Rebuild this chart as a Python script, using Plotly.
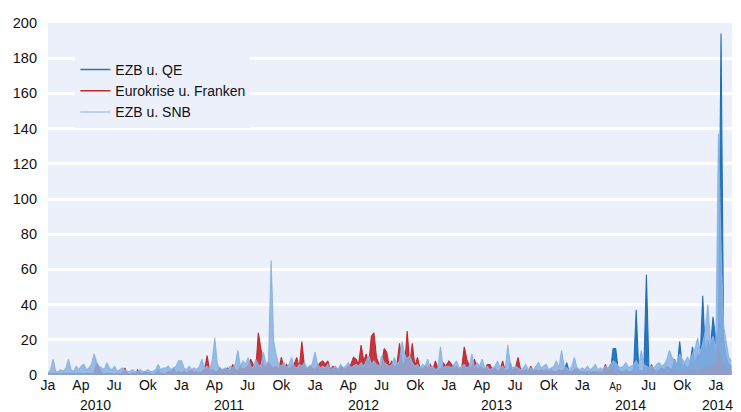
import pandas as pd
import plotly.graph_objects as go

# ---- data (weekly readings from the picture) ----
years = [2010, 2011, 2012, 2013, 2014, 2015]

snb_2010 = [1,3,9,2,2,3,2,4,9,3, 2,5,3,5,6,3,4,6,12,7, 5,4,3,7,4,3,5,2,3,4, 3,2,2,3,2,2,3,2,2,3, 2,2,3,6,3,4,4,5,3,4, 5,8]
red_2010 = [0,1,0,0,1,0,0,1,0,0, 1,0,0,1,0,1,0,1,1,7, 4,1,0,1,0,1,0,1,0,1, 4,1,0,1,0,3,1,0,1,0, 1,0,1,0,1,0,1,2,1,4, 1,2]
qe_2010 = [1,0,1,1,0,1,1,0,1,1, 0,1,1,0,1,1,1,0,1,1, 0,1,1,0,1,1,0,1,1,0, 1,1,0,1,1,0,1,1,2,1, 1,0,1,3,1,1,0,1,2,1, 1,0]

snb_2011 = [8,4,3,5,3,4,3,5,9,4, 5,3,8,21,6,4,3,4,3,5, 4,6,14,5,8,6,10,5,4,9, 6,5,13,6,8,65,19,11,6,5, 7,4,6,10,5,4,6,5,7,4, 5,6]
red_2011 = [1,2,1,2,3,1,2,1,2,3, 11,2,3,2,2,4,2,3,4,2, 6,3,2,5,3,4,5,9,6,3, 24,16,6,4,7,5,4,5,3,10, 4,6,3,5,6,10,4,19,5,3, 5,4]
qe_2011 = [1,1,0,1,1,1,0,1,1,1, 1,0,1,1,1,1,1,0,1,1, 1,1,1,1,1,1,1,1,1,1, 1,1,2,1,2,3,2,3,2,1, 1,2,1,1,2,2,3,2,1,2, 1,1]

snb_2012 = [13,6,4,5,4,6,3,4,5,3, 6,4,5,7,4,5,6,5,7,5, 8,11,6,8,6,5,11,7,6,5, 6,10,6,8,19,12,9,11,7,5, 6,4,6,5,9,4,5,3,4,16, 4,5]
red_2012 = [3,5,7,8,6,8,3,5,4,3, 5,4,3,5,6,10,9,6,17,8, 12,6,22,24,10,6,5,15,13,5, 8,4,6,18,7,5,25,6,18,5, 10,4,3,5,4,6,3,8,4,3, 7,5]
qe_2012 = [1,2,1,1,2,1,1,2,1,1, 2,1,1,2,1,3,2,1,4,2, 1,2,1,3,1,2,1,2,1,3, 2,1,2,4,3,2,1,2,1,2, 1,1,2,1,1,2,1,1,2,1, 1,2]

snb_2013 = [5,4,6,8,4,5,6,4,5,12, 4,7,5,9,4,5,3,4,5,8, 4,5,3,17,6,4,5,4,3,4, 6,3,4,3,5,7,4,5,6,3, 4,5,8,4,14,5,4,3,5,10, 4,3]
red_2013 = [8,6,4,5,3,4,16,9,5,4, 9,3,5,4,3,6,6,3,4,2, 3,8,2,3,2,3,4,10,3,2, 3,2,5,2,3,2,3,2,3,2, 3,2,2,3,2,3,2,1,2,3, 4,2]
qe_2013 = [1,1,2,1,1,1,2,1,1,1, 2,1,1,1,2,1,1,1,2,1, 1,2,1,1,7,1,2,1,1,2, 1,1,2,1,3,1,2,1,1,2, 1,2,1,2,1,2,7,2,1,2, 1,2]

snb_2014 = [4,3,5,3,4,6,3,4,3,5, 4,6,8,7,5,4,5,7,4,5, 6,8,5,14,6,5,4,5,4,6, 7,5,6,9,14,10,8,7,12,9, 7,10,8,12,15,21,13,18,25,40, 18,22]
red_2014 = [2,1,2,1,2,1,2,1,2,6, 2,6,2,1,2,1,2,1,2,1, 2,1,2,1,2,1,2,6,2,1, 2,3,2,1,2,3,2,1,2,3, 2,1,3,2,3,2,3,4,3,5, 4,5]
qe_2014 = [1,2,1,2,1,2,1,2,1,2, 2,3,15,15,3,2,2,3,2,2, 3,37,3,2,3,57,3,2,3,2, 3,4,3,5,4,3,9,4,19,5, 6,4,6,16,6,12,10,45,12,20, 15,33]

snb_2015 = [15,137,72,28,20,10,8]
red_2015 = [5,15,8,6,4,3,2]
qe_2015 = [20,25,194,20,10,6,5]

series_names = ["EZB u. QE", "Eurokrise u. Franken", "EZB u. SNB"]
qe_years = [qe_2010, qe_2011, qe_2012, qe_2013, qe_2014, qe_2015]
red_years = [red_2010, red_2011, red_2012, red_2013, red_2014, red_2015]
snb_years = [snb_2010, snb_2011, snb_2012, snb_2013, snb_2014, snb_2015]

tick_dates = [f"{y}-{m}-01" for y in [2010, 2011, 2012, 2013, 2014] for m in ["01", "04", "07", "10"]] + ["2015-01-01"]
tick_text = ["Ja", "Ap", "Ju", "Ok"] * 4 + ["Ja", "<span style='font-size:10px'>Ap</span>", "Ju", "Ok", "Ja"]
year_label_dates = ["2010-05-12", "2011-05-12", "2012-05-12", "2013-05-12", "2014-05-12", "2015-01-05"]
year_labels = ["2010", "2011", "2012", "2013", "2014", "2014"]


def build(parts):
    xs, ys = [], []
    for yr, vals in zip(years, parts):
        d = pd.date_range(f"{yr}-01-01", periods=len(vals), freq="7D")
        xs.extend(d)
        ys.extend(vals)
    return xs, ys


line_colors = ["#1F6FBC", "#C1272D", "rgba(138,178,226,0.95)"]
fill_colors = ["rgba(31,111,188,0.95)", "rgba(193,39,45,0.92)", "rgba(138,178,226,0.85)"]
legend_colors = ["#2E75B6", "#C1272D", "#A9C8EA"]

fig = go.Figure()
for name, parts, lc, fc in zip(series_names, [qe_years, red_years, snb_years], line_colors, fill_colors):
    x, y = build(parts)
    fig.add_trace(go.Scatter(x=x, y=y, mode="lines", name=name, showlegend=False,
                             legendgroup=name, line=dict(color=lc, width=1.1),
                             fill="tozeroy", fillcolor=fc))
# legend entries drawn as plain line samples
for name, c in zip(series_names, legend_colors):
    fig.add_trace(go.Scatter(x=[None], y=[None], mode="lines", name=name,
                             legendgroup=name, line=dict(color=c, width=1.5)))

FONT = "Arial, Liberation Sans, sans-serif"
fig.update_layout(
    width=741, height=412,
    margin=dict(l=48, r=9, t=23, b=37),
    paper_bgcolor="white",
    plot_bgcolor="#EBF0FA",
    font=dict(family=FONT, size=14, color="#111"),
    showlegend=True,
    legend=dict(x=0.04, y=0.912, xanchor="left", yanchor="top",
                bgcolor="#EBF0FA", borderwidth=0,
                font=dict(family=FONT, size=14, color="#111"),
                itemwidth=30, tracegroupgap=0),
    xaxis=dict(range=["2010-01-01", "2015-02-14"], tickmode="array",
               tickvals=tick_dates, ticktext=tick_text, showgrid=False,
               zeroline=False, showline=False, ticks="",
               tickfont=dict(family=FONT, size=14, color="#111")),
    yaxis=dict(range=[0, 200], dtick=20, showgrid=True, gridcolor="white",
               gridwidth=2.5, zeroline=False, showline=False, ticks="",
               ticklabelstandoff=10,
               tickfont=dict(family=FONT, size=14.5, color="#111")),
)
for d, t in zip(year_label_dates, year_labels):
    fig.add_annotation(x=d, y=0, xref="x", yref="paper", text=t, showarrow=False,
                       yanchor="top", yshift=-20,
                       font=dict(family=FONT, size=14, color="#111"))

fig.write_html("out.html", config={"displayModeBar": False},
               post_script="document.body.style.margin='0';")
